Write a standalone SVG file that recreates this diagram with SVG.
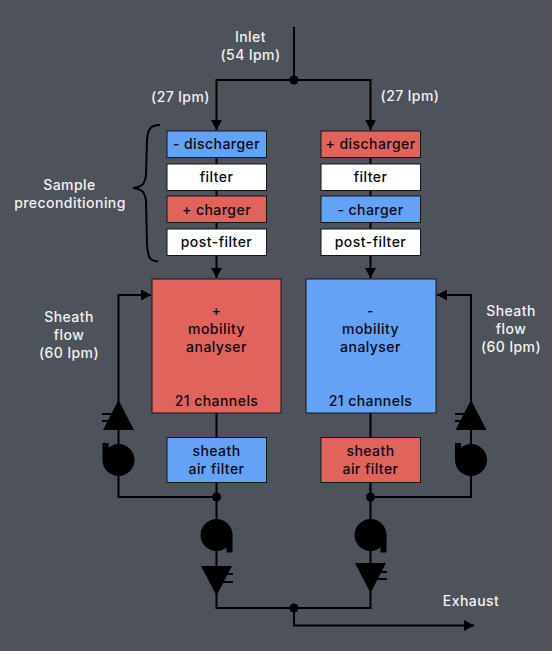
<svg xmlns="http://www.w3.org/2000/svg" width="552" height="651" viewBox="0 0 552 651">
<style>
text{font-family:"Inter","Liberation Sans",sans-serif;font-size:14px;font-weight:500;text-anchor:middle;letter-spacing:.45px}
.l{fill:#f2f2f2}
.d{fill:#0a0a12}
.b{stroke:#15151a;stroke-width:1}
.blue{fill:#64a2f5}.red{fill:#e0645c}.white{fill:#fff}
.w{fill:none;stroke:#000;stroke-width:2}
</style>
<defs>
<marker id="a" markerUnits="userSpaceOnUse" markerWidth="11" markerHeight="11" refX="10" refY="5.500" orient="auto"><path d="M0 0L10 5.500L0 11Z" fill="#000"/></marker>
<g id="pumpL"><circle cx="0" cy="0" r="16" fill="#000"/><rect x="-16" y="-17" width="6" height="17" fill="#000"/></g>
<g id="pumpR"><circle cx="0" cy="0" r="16" fill="#000"/><rect x="10" y="0" width="6" height="17.500" fill="#000"/></g>
</defs>
<rect width="552" height="651" fill="#4e535b"/>
<g id="connectors">
<path class="w" d="M294 27V80"/>
<path class="w" d="M294 80H216.500V130" marker-end="url(#a)"/>
<path class="w" d="M294 80H370.500V130" marker-end="url(#a)"/>
<path class="w" d="M216.500 158V164M216.500 190V197M216.500 223V229M370.500 158V164M370.500 190V197M370.500 223V229"/>
<path class="w" d="M216.500 255V278" marker-end="url(#a)"/>
<path class="w" d="M370.500 255V278" marker-end="url(#a)"/>
<path class="w" d="M216.500 413V437M370.500 413V437"/>
<path class="w" d="M216.500 482V608H370.500V482"/>
<path class="w" d="M216.500 497H118.500V295H151" marker-end="url(#a)"/>
<path class="w" d="M370.500 497H471V295H437" marker-end="url(#a)"/>
<path class="w" d="M294 608V625.500H474" marker-end="url(#a)"/>
<circle cx="294" cy="80" r="4.500"/><circle cx="216.500" cy="497" r="4.500"/><circle cx="370.500" cy="497" r="4.500"/><circle cx="294" cy="608" r="4.500"/>
<path class="w" d="M160 125C151 125 148 128 147 140L146 175C145 183 143 187 133 188C143 189 145 193 146 201L147 245C148 258 150 261 158 261.500"/>
</g>
<g id="valve-left"><path d="M118.500 400L134 430H103Z"/><path d="M118.500 414H102M118.500 421H102" stroke="#000" stroke-width="2"/></g>
<g id="pump-left"><use href="#pumpL" x="118.500" y="460"/></g>
<g id="valve-right"><path d="M471 400L486.500 430H455.500Z"/><path d="M471 414H455M471 421H455" stroke="#000" stroke-width="2"/></g>
<g id="pump-right"><use href="#pumpL" x="471" y="460"/></g>
<g id="pump-bl"><use href="#pumpR" x="216.500" y="535"/></g>
<g id="valve-bl"><path d="M201 566H232L216.500 595.500Z"/><path d="M216.500 574H233M216.500 582H233" stroke="#000" stroke-width="2"/></g>
<g id="pump-br"><use href="#pumpR" x="370.500" y="535"/></g>
<g id="valve-br"><path d="M355 563H386L370.500 593Z"/><path d="M370.500 572H387M370.500 579H387" stroke="#000" stroke-width="2"/></g>
<g id="inlet"><text class="l" x="250.500" y="42">Inlet</text><text class="l" x="250.500" y="60">(54 lpm)</text></g>
<g id="flow-left"><text class="l" x="180.500" y="102">(27 lpm)</text></g>
<g id="flow-right"><text class="l" x="410" y="101">(27 lpm)</text></g>
<g id="sample"><text class="l" x="69.500" y="190">Sample</text><text class="l" x="70" y="208">preconditioning</text></g>
<g id="n1"><rect class="b blue" x="167" y="131" width="99.500" height="26.500"/><text class="d" x="216.500" y="149">- discharger</text></g>
<g id="n2"><rect class="b white" x="167" y="164" width="99.500" height="26.500"/><text class="d" x="216.500" y="182">filter</text></g>
<g id="n3"><rect class="b red" x="167" y="196" width="99.500" height="26.500"/><text class="d" x="216.500" y="215">+ charger</text></g>
<g id="n4"><rect class="b white" x="167" y="229" width="99.500" height="26.500"/><text class="d" x="216.500" y="247">post-filter</text></g>
<g id="n5"><rect class="b red" x="321" y="131" width="99.500" height="26.500"/><text class="d" x="370.500" y="149">+ discharger</text></g>
<g id="n6"><rect class="b white" x="321" y="164" width="99.500" height="26.500"/><text class="d" x="370.500" y="182">filter</text></g>
<g id="n7"><rect class="b blue" x="321" y="196" width="99.500" height="26.500"/><text class="d" x="370.500" y="215">- charger</text></g>
<g id="n8"><rect class="b white" x="321" y="229" width="99.500" height="26.500"/><text class="d" x="370.500" y="247">post-filter</text></g>
<g id="analyser-plus"><rect class="b red" x="152" y="279" width="129" height="134"/><text class="d" x="216.500" y="316">+</text><text class="d" x="216.500" y="334">mobility</text><text class="d" x="216.500" y="352">analyser</text><text class="d" x="216.500" y="406">21 channels</text></g>
<g id="analyser-minus"><rect class="b blue" x="306" y="279" width="130" height="134"/><text class="d" x="370.500" y="316">-</text><text class="d" x="370.500" y="334">mobility</text><text class="d" x="370.500" y="352">analyser</text><text class="d" x="370.500" y="406">21 channels</text></g>
<g id="filter-left"><rect class="b blue" x="167" y="437.500" width="99.500" height="45"/><text class="d" x="216.500" y="456">sheath</text><text class="d" x="216.500" y="474">air filter</text></g>
<g id="filter-right"><rect class="b red" x="321" y="437.500" width="99.500" height="45"/><text class="d" x="370.500" y="456">sheath</text><text class="d" x="370.500" y="474">air filter</text></g>
<g id="sheath-left"><text class="l" x="69" y="322">Sheath</text><text class="l" x="69" y="340">flow</text><text class="l" x="69" y="358">(60 lpm)</text></g>
<g id="sheath-right"><text class="l" x="511" y="316">Sheath</text><text class="l" x="511" y="334">flow</text><text class="l" x="511" y="352">(60 lpm)</text></g>
<g id="exhaust"><text class="l" x="471" y="606">Exhaust</text></g>
</svg>
